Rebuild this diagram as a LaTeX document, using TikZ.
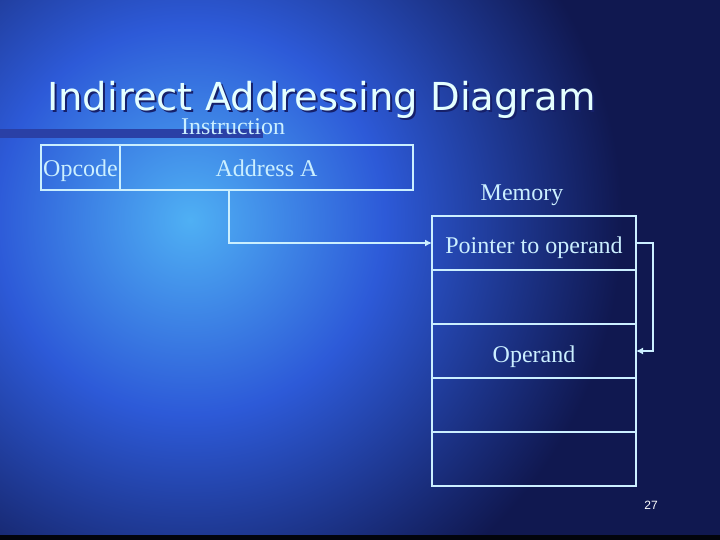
\documentclass[tikz,border=0pt]{standalone}
\usepackage{fontspec}
\setmainfont{Liberation Serif}
\newfontfamily\titlefont{DejaVu Sans}
\newfontfamily\numfont{Liberation Sans}
\usepackage{tikz}
\usetikzlibrary{arrows.meta,positioning,calc}
\definecolor{bglight}{HTML}{4FB0F4}
\definecolor{bgmid}{HTML}{2D5AD8}
\definecolor{bgdark}{HTML}{101850}
\definecolor{bar}{HTML}{2A40A6}
\definecolor{ink}{HTML}{CBEFFF}
\definecolor{ttl}{HTML}{E4FFFF}
\definecolor{shd}{HTML}{16206A}
\pgfdeclareradialshading{bgglow}{\pgfpoint{0bp}{0bp}}{color(0bp)=(bglight); color(9bp)=(bgmid); color(20bp)=(bgdark); color(50bp)=(bgdark)}
\tikzset{title/.style={font=\titlefont\fontsize{38.5}{44}\selectfont, inner sep=0pt},
         lbl/.style={font=\fontsize{24}{28}\selectfont, text=ink, inner sep=0pt},
         field/.style={draw=ink, line width=2pt, inner sep=0pt, outer sep=0pt, minimum height=45pt, text=ink, font=\fontsize{24}{28}\selectfont, text height=18pt, text depth=0pt},
         cell/.style={draw=ink, line width=2pt, inner sep=0pt, outer sep=0pt, minimum width=204pt, minimum height=54pt, text=ink, font=\fontsize{24}{28}\selectfont, text height=22pt, text depth=0pt},
         arr/.style={-{Latex[length=7pt,width=7pt]}, line width=2pt, ink}}

\begin{document}
\begin{tikzpicture}[x=1pt,y=-1pt]
\useasboundingbox (0,0) rectangle (720,540);
% background
\begin{scope}
\clip (0,0) rectangle (720,540);
\fill[bgdark] (0,0) rectangle (720,540);
\shade[shading=bgglow] (190,220) circle (540);
\fill[black!85!bgdark] (0,535) rectangle (720,540);
\end{scope}
% title
\node[title, text=shd, anchor=base west] (ttlshadow) at (49,113) {Indirect Addressing Diagram};
\node[title, text=ttl, anchor=base west] (ttl) at (47,111) {Indirect Addressing Diagram};
\fill[bar] (0,129) rectangle (263,138);
% instruction
\node[lbl, anchor=base] (instr) at (233,135) {Instruction};
\node[field, minimum width=79pt] (opc) at (80.5,167.5) {Opcode};
\node[field, minimum width=293pt, right=0pt of opc] (addr) {Address A};
% memory
\node[lbl, anchor=base] (memlbl) at (522,201) {Memory};
\foreach \i/\t in {1/Pointer to operand,2/,3/Operand,4/,5/} {\node[cell] (m\i) at (534,189+54*\i) {\t};}
% connectors
\coordinate (tap) at (229,190);
\draw[arr] (tap) |- (m1.west);
\draw[arr] (m1.east) -- ++(17,0) |- (m3.east);
\node[font=\numfont\fontsize{12}{14}\selectfont, text=white] (pgno) at (651,505) {27};
\end{tikzpicture}
\end{document}
